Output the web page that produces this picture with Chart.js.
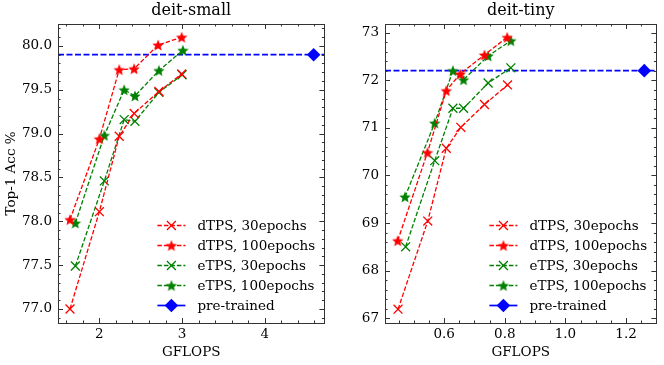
<!DOCTYPE html>
<html>
<head>
<meta charset="utf-8">
<script src="https://cdn.jsdelivr.net/npm/chart.js@4.4.1/dist/chart.umd.min.js"></script>
<style>
  body { margin: 0; background: #fff; }
  #wrap { position: relative; width: 664px; height: 365px; }
  .panel { position: absolute; top: 0; width: 332px; height: 365px; }
</style>
</head>
<body>
<div id="wrap">
  <div class="panel" style="left:0"><canvas id="small" width="332" height="365"></canvas></div>
  <div class="panel" style="left:332px"><canvas id="tiny" width="332" height="365"></canvas></div>
</div>
<script>
// --- values ---
const seriesNames = ['dTPS, 30epochs', 'dTPS, 100epochs', 'eTPS, 30epochs', 'eTPS, 100epochs'];
const pretrainedName = 'pre-trained';

// deit-small
const smallDtps30X  = [1.645, 2.00, 2.24, 2.42, 2.72, 2.995];
const smallDtps30Y  = [77.00, 78.11, 78.97, 79.23, 79.48, 79.68];
const smallDtps100X = [1.645, 2.00, 2.24, 2.42, 2.71, 2.995];
const smallDtps100Y = [78.02, 78.94, 79.73, 79.74, 80.01, 80.10];
const smallEtps30X  = [1.71, 2.06, 2.30, 2.43, 2.72, 3.00];
const smallEtps30Y  = [77.49, 78.46, 79.16, 79.14, 79.47, 79.67];
const smallEtps100X = [1.71, 2.06, 2.30, 2.43, 2.72, 3.01];
const smallEtps100Y = [77.98, 78.98, 79.50, 79.43, 79.72, 79.95];
const smallPretrained = [4.59, 79.90];
const smallXRange = [1.50, 4.72];
const smallYRange = [76.84, 80.25];
const smallXTicks = [2, 3, 4];
const smallYTicks = [77.0, 77.5, 78.0, 78.5, 79.0, 79.5, 80.0];

// deit-tiny
const tinyDtps30X  = [0.448, 0.546, 0.607, 0.655, 0.733, 0.809];
const tinyDtps30Y  = [67.19, 69.04, 70.57, 71.01, 71.49, 71.90];
const tinyDtps100X = [0.447, 0.545, 0.607, 0.653, 0.733, 0.808];
const tinyDtps100Y = [68.63, 70.48, 71.78, 72.13, 72.53, 72.90];
const tinyEtps30X  = [0.473, 0.569, 0.629, 0.664, 0.745, 0.820];
const tinyEtps30Y  = [68.50, 70.31, 71.41, 71.41, 71.94, 72.26];
const tinyEtps100X = [0.471, 0.569, 0.629, 0.664, 0.745, 0.820];
const tinyEtps100Y = [69.55, 71.10, 72.20, 72.01, 72.51, 72.83];
const tinyPretrained = [1.26, 72.20];
const tinyXRange = [0.405, 1.30];
const tinyYRange = [66.90, 73.18];
const tinyXTicks = [0.6, 0.8, 1.0, 1.2];
const tinyYTicks = [67, 68, 69, 70, 71, 72, 73];

// --- styling ---
const FONT = "'DejaVu Serif', serif";
const RED = '#ff0000', GREEN = '#008000', BLUE = '#0000ff';
const LINE_W = 1.3;

function starImage(color, r) {
  const c = document.createElement('canvas');
  const s = Math.ceil(r * 2 + 2);
  c.width = c.height = s;
  const g = c.getContext('2d');
  g.translate(s / 2, s / 2 + 0.6);
  g.beginPath();
  for (let i = 0; i < 10; i++) {
    const rad = i % 2 === 0 ? r : r * 0.45;
    const a = -Math.PI / 2 + i * Math.PI / 5;
    g.lineTo(rad * Math.cos(a), rad * Math.sin(a));
  }
  g.closePath();
  g.fillStyle = color;
  g.fill();
  return c;
}

const markers = [
  { color: RED, style: 'crossRot', radius: 6.3 },
  { color: RED, style: starImage(RED, 6), radius: 6 },
  { color: GREEN, style: 'crossRot', radius: 6.3 },
  { color: GREEN, style: starImage(GREEN, 6), radius: 6 },
];

function zipXY(xs, ys) {
  return xs.map((x, i) => ({ x, y: ys[i] }));
}

function buildDatasets(xsList, ysList, pre) {
  const sets = xsList.map((xs, i) => ({
    label: seriesNames[i],
    data: zipXY(xs, ysList[i]),
    showLine: true,
    borderColor: markers[i].color,
    backgroundColor: markers[i].color,
    borderWidth: LINE_W,
    borderDash: [4.5, 2],
    pointStyle: markers[i].style,
    pointRadius: markers[i].radius,
    pointBorderWidth: LINE_W,
    pointBorderColor: markers[i].color,
    pointBackgroundColor: markers[i].color,
  }));
  sets.push({
    label: pretrainedName,
    data: [{ x: pre[0], y: pre[1] }],
    showLine: false,
    pointStyle: 'rectRot',
    pointRadius: 6.8,
    backgroundColor: BLUE,
    borderColor: BLUE,
    pointBorderWidth: 0,
  });
  return sets;
}

function minorStep(step) {
  const m = step / Math.pow(10, Math.floor(Math.log10(step) + 1e-9));
  const n = (Math.abs(m - 1) < 1e-6 || Math.abs(m - 5) < 1e-6) ? 5 : 4;
  return step / n;
}

// frame, inward ticks, pre-trained line, title and legend
const decorPlugin = {
  id: 'decor',
  beforeDatasetsDraw(chart) {
    const { ctx, chartArea: a, scales: { y } } = chart;
    const py = y.getPixelForValue(chart.options.pretrainedY);
    ctx.save();
    ctx.strokeStyle = BLUE;
    ctx.lineWidth = 1.7;
    ctx.setLineDash([6, 2.5]);
    ctx.beginPath();
    ctx.moveTo(a.left, py);
    ctx.lineTo(a.right, py);
    ctx.stroke();
    ctx.restore();
  },
  afterDraw(chart) {
    const { ctx, chartArea: a, scales: { x, y } } = chart;
    const o = chart.options;
    ctx.save();
    ctx.strokeStyle = '#333';
    ctx.lineWidth = 1;
    ctx.strokeRect(Math.round(a.left) + 0.5, Math.round(a.top) + 0.5,
      Math.round(a.right - a.left), Math.round(a.bottom - a.top));

    const drawTicks = (scale, values, len) => {
      ctx.beginPath();
      values.forEach(v => {
        const p = Math.round(scale.getPixelForValue(v)) + 0.5;
        if (scale.isHorizontal()) {
          if (p < a.left || p > a.right) return;
          ctx.moveTo(p, a.bottom); ctx.lineTo(p, a.bottom - len);
          ctx.moveTo(p, a.top); ctx.lineTo(p, a.top + len);
        } else {
          if (p < a.top || p > a.bottom) return;
          ctx.moveTo(a.left, p); ctx.lineTo(a.left + len, p);
          ctx.moveTo(a.right, p); ctx.lineTo(a.right - len, p);
        }
      });
      ctx.stroke();
    };
    [[x, o.xTickList], [y, o.yTickList]].forEach(([scale, majors]) => {
      const step = majors[1] - majors[0];
      const ms = minorStep(step);
      const minors = [];
      for (let v = Math.ceil(scale.min / ms) * ms; v <= scale.max + 1e-9; v += ms) {
        if (!majors.some(m => Math.abs(m - v) < ms / 10)) minors.push(v);
      }
      drawTicks(scale, majors, 5);
      drawTicks(scale, minors, 2.5);
    });

    // title
    ctx.fillStyle = '#000';
    ctx.font = `16px ${FONT}`;
    ctx.textAlign = 'center';
    ctx.textBaseline = 'middle';
    ctx.fillText(o.panelTitle, (a.left + a.right) / 2, a.top - 13);

    // legend (bottom right, inside)
    ctx.font = `13.5px ${FONT}`;
    ctx.textAlign = 'left';
    const x0 = a.right - 167, x1 = a.right - 139, tx = a.right - 127;
    const rowH = 20, y0 = a.bottom - 97.5;
    chart.data.datasets.forEach((ds, i) => {
      const yy = y0 + i * rowH;
      const isPre = i === chart.data.datasets.length - 1;
      ctx.strokeStyle = ds.borderColor;
      ctx.fillStyle = ds.backgroundColor;
      ctx.lineWidth = isPre ? 1.7 : LINE_W;
      ctx.setLineDash(isPre ? [] : [4.5, 2]);
      ctx.beginPath();
      ctx.moveTo(x0, yy); ctx.lineTo(x1, yy);
      ctx.stroke();
      ctx.setLineDash([]);
      Chart.helpers.drawPoint(ctx, {
        pointStyle: ds.pointStyle, radius: ds.pointRadius, rotation: 0,
        borderWidth: isPre ? 0 : LINE_W
      }, (x0 + x1) / 2, yy);
      ctx.fillStyle = '#000';
      ctx.fillText(ds.label, tx, yy + 1);
    });
    ctx.restore();
  }
};

function makeChart(id, cfg) {
  const tickFont = { family: FONT, size: 13.5 };
  return new Chart(document.getElementById(id), {
    type: 'scatter',
    data: { datasets: buildDatasets(cfg.xs, cfg.ys, cfg.pre) },
    options: {
      responsive: false,
      animation: false,
      panelTitle: cfg.title,
      pretrainedY: cfg.pre[1],
      xTickList: cfg.xTicks,
      yTickList: cfg.yTicks,
      layout: { padding: { top: 24, right: cfg.padRight, left: 0, bottom: 0 } },
      plugins: { legend: { display: false }, tooltip: { enabled: false } },
      scales: {
        x: {
          type: 'linear', min: cfg.xRange[0], max: cfg.xRange[1],
          grid: { display: false, drawTicks: false },
          border: { display: false },
          afterBuildTicks: s => { s.ticks = cfg.xTicks.map(v => ({ value: v })); },
          afterFit: s => { s.height = 42; },
          ticks: { font: tickFont, color: '#000', padding: 3, maxRotation: 0,
                   callback: v => cfg.xFmt(v) },
          title: { display: true, text: 'GFLOPS', font: tickFont, color: '#000',
                   padding: { top: 0, bottom: 4 } }
        },
        y: {
          type: 'linear', min: cfg.yRange[0], max: cfg.yRange[1],
          grid: { display: false, drawTicks: false },
          border: { display: false },
          afterBuildTicks: s => { s.ticks = cfg.yTicks.map(v => ({ value: v })); },
          afterFit: s => { s.width = cfg.yWidth; },
          ticks: { font: tickFont, color: '#000', padding: 6,
                   callback: v => cfg.yFmt(v) },
          title: { display: !!cfg.yTitle, text: cfg.yTitle, font: tickFont, color: '#000',
                   padding: { top: 3, bottom: 0 } }
        }
      }
    },
    plugins: [decorPlugin]
  });
}

makeChart('small', {
  title: 'deit-small',
  xs: [smallDtps30X, smallDtps100X, smallEtps30X, smallEtps100X],
  ys: [smallDtps30Y, smallDtps100Y, smallEtps30Y, smallEtps100Y],
  pre: smallPretrained,
  xRange: smallXRange, yRange: smallYRange,
  xTicks: smallXTicks, yTicks: smallYTicks,
  xFmt: v => String(v), yFmt: v => v.toFixed(1),
  yTitle: 'Top-1 Acc %',
  yWidth: 58, padRight: 2
});

makeChart('tiny', {
  title: 'deit-tiny',
  xs: [tinyDtps30X, tinyDtps100X, tinyEtps30X, tinyEtps100X],
  ys: [tinyDtps30Y, tinyDtps100Y, tinyEtps30Y, tinyEtps100Y],
  pre: tinyPretrained,
  xRange: tinyXRange, yRange: tinyYRange,
  xTicks: tinyXTicks, yTicks: tinyYTicks,
  xFmt: v => v.toFixed(1), yFmt: v => String(v),
  yTitle: '',
  yWidth: 53, padRight: 5
});
</script>
</body>
</html>
